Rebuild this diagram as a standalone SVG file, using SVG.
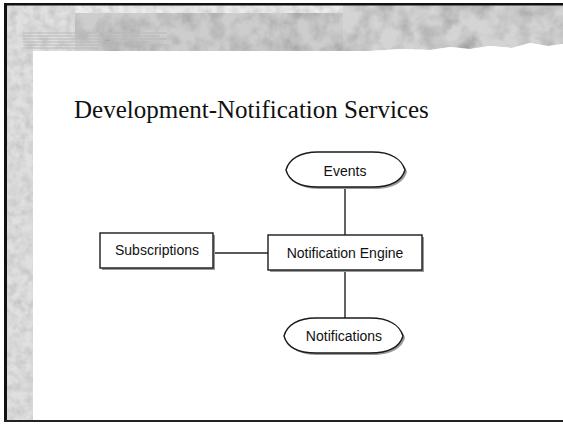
<svg xmlns="http://www.w3.org/2000/svg" width="563" height="424" viewBox="0 0 563 424">
<style>
.node{fill:#fff;stroke:#1a1a1a;stroke-width:1.4}
.shadow{fill:#9a9a9a}
.lbl{font-family:"Liberation Sans",Arial,sans-serif;font-size:14px;fill:#111;text-anchor:middle}
.title{font-family:"Liberation Serif","Times New Roman",serif;font-size:25px;fill:#111}
.conn line{stroke:#222;stroke-width:1.4}
</style>
<defs>
<filter id="tex" x="0" y="0" width="100%" height="100%">
<feTurbulence type="fractalNoise" baseFrequency="0.12" numOctaves="3" seed="5" result="n"/>
<feColorMatrix in="n" type="saturate" values="0" result="g"/>
<feComponentTransfer in="g" result="g2">
<feFuncR type="linear" slope="0.6" intercept="0.62"/>
<feFuncG type="linear" slope="0.6" intercept="0.62"/>
<feFuncB type="linear" slope="0.6" intercept="0.62"/>
<feFuncA type="linear" slope="0" intercept="1"/>
</feComponentTransfer>
<feBlend in="SourceGraphic" in2="g2" mode="multiply" result="b"/>
<feComposite in="b" in2="SourceGraphic" operator="in"/>
</filter>
<filter id="tex2" x="0" y="0" width="100%" height="100%">
<feTurbulence type="fractalNoise" baseFrequency="0.05" numOctaves="4" seed="11" result="n"/>
<feColorMatrix in="n" type="saturate" values="0" result="g"/>
<feComponentTransfer in="g" result="g2">
<feFuncR type="linear" slope="1.1" intercept="0.35"/>
<feFuncG type="linear" slope="1.1" intercept="0.35"/>
<feFuncB type="linear" slope="1.1" intercept="0.35"/>
<feFuncA type="linear" slope="0" intercept="1"/>
</feComponentTransfer>
<feBlend in="SourceGraphic" in2="g2" mode="multiply" result="b"/>
<feComposite in="b" in2="SourceGraphic" operator="in"/>
</filter>
</defs>
<rect x="0" y="0" width="563" height="424" fill="#fff"/>
<g id="background">
<rect x="7" y="5" width="26" height="416" fill="#e0e0e0" filter="url(#tex)"/>
<rect x="7" y="5" width="68" height="46" fill="#e0e0e0" filter="url(#tex)"/>
<rect x="75" y="5" width="268" height="8" fill="#ececec" filter="url(#tex)"/>
<rect x="75" y="13" width="268" height="38" fill="#cdcdcd" filter="url(#tex2)"/>
<path d="M343,5 L563,5 L563,44 L548,46 L530,43 L512,48 L490,46 L470,49 L450,47 L430,50 L400,49 L370,51 L343,51 Z" fill="#d4d4d4" filter="url(#tex2)"/>
<g stroke="#b8b8b8" stroke-width="1">
<line x1="23" y1="33" x2="167" y2="33"/>
<line x1="23" y1="36" x2="160" y2="36"/>
<line x1="23" y1="39" x2="167" y2="39"/>
<line x1="23" y1="42" x2="150" y2="42"/>
<line x1="23" y1="45" x2="167" y2="45"/>
<line x1="23" y1="48" x2="100" y2="48"/>
</g>
<rect x="4" y="3" width="559" height="2.5" fill="#111"/>
<rect x="4" y="3" width="3" height="419" fill="#111"/>
<rect x="4" y="420" width="559" height="2" fill="#222"/>
</g>
<text class="title" x="74" y="118">Development-Notification Services</text>
<g class="conn" id="connectors">
<line x1="345" y1="187" x2="345" y2="235"/>
<line x1="345" y1="270" x2="345" y2="318"/>
<line x1="213" y1="253" x2="268" y2="253"/>
</g>
<g id="events">
<path class="shadow" d="M288,172 C291,161 302,154 320,154 L374,154 C394,154 404,162 407,172 C404,182 394,189 374,189 L320,189 C302,189 291,183 288,172 Z"/>
<path class="node" d="M286,170 C289,159 300,152 318,152 L372,152 C392,152 402,160 405,170 C402,180 392,187 372,187 L318,187 C300,187 289,181 286,170 Z"/>
<text class="lbl" x="345" y="176">Events</text>
</g>
<g id="subscriptions">
<rect class="shadow" x="102" y="235" width="113" height="35"/>
<rect class="node" x="100" y="233" width="113" height="35"/>
<text class="lbl" x="157" y="255">Subscriptions</text>
</g>
<g id="engine">
<rect class="shadow" x="270" y="237" width="154" height="35"/>
<rect class="node" x="268" y="235" width="154" height="35"/>
<text class="lbl" x="345" y="258">Notification Engine</text>
</g>
<g id="notifications">
<path class="shadow" d="M286,338 C289,327 300,320 318,320 L372,320 C392,320 402,328 405,338 C402,348 392,355 372,355 L318,355 C300,355 289,349 286,338 Z"/>
<path class="node" d="M284,336 C287,325 298,318 316,318 L370,318 C390,318 400,326 403,336 C400,346 390,353 370,353 L316,353 C298,353 287,347 284,336 Z"/>
<text class="lbl" x="344" y="341">Notifications</text>
</g>
</svg>
